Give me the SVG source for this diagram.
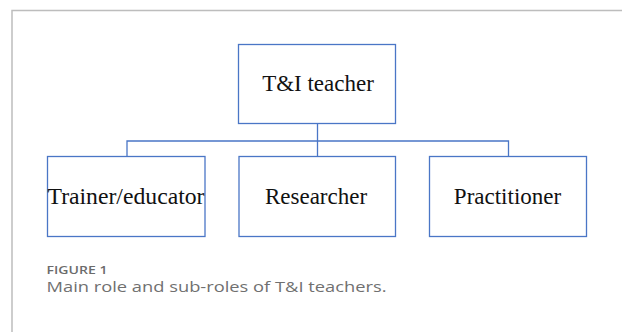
<svg xmlns="http://www.w3.org/2000/svg" width="622" height="332" viewBox="0 0 622 332">
<style>
.box{fill:#fff;stroke:#4a76c6;stroke-width:1.3}
.lbl{font-family:"Liberation Serif","Times New Roman",serif;font-size:23px;fill:#111;text-anchor:middle}
.conn{fill:none;stroke:#4a76c6;stroke-width:1.3}
.frame{fill:none;stroke:#bdbdbd;stroke-width:1.5}
</style>
<rect width="622" height="332" fill="#fff"/>
<path class="frame" d="M12 332 V10.5 H622"/>
<g id="connectors">
<path class="conn" d="M317.5 123.5 V141"/>
<path class="conn" d="M127 156.5 V141 H508.5 V156.5"/>
<path class="conn" d="M317.5 141 V156.5"/>
</g>
<g id="t-i-teacher">
<rect class="box" x="238.5" y="44.5" width="157" height="79"/>
<text class="lbl" x="318" y="90.5">T&amp;I teacher</text>
</g>
<g id="trainer">
<rect class="box" x="47.5" y="156.5" width="157.5" height="80"/>
<text class="lbl" x="126" y="204" textLength="157" lengthAdjust="spacingAndGlyphs">Trainer/educator</text>
</g>
<g id="researcher">
<rect class="box" x="239" y="156.5" width="156.5" height="80"/>
<text class="lbl" x="316" y="204">Researcher</text>
</g>
<g id="practitioner">
<rect class="box" x="429.5" y="156.5" width="157" height="80"/>
<text class="lbl" x="507.5" y="204">Practitioner</text>
</g>
<text x="46.5" y="273.5" font-family="'Open Sans',sans-serif" font-size="11.5" font-weight="600" fill="#6b6b6b" textLength="61" lengthAdjust="spacingAndGlyphs">FIGURE 1</text>
<text x="46.5" y="292" font-family="'Open Sans',sans-serif" font-size="14.5" fill="#707070" textLength="340" lengthAdjust="spacingAndGlyphs">Main role and sub-roles of T&amp;I teachers.</text>
</svg>
